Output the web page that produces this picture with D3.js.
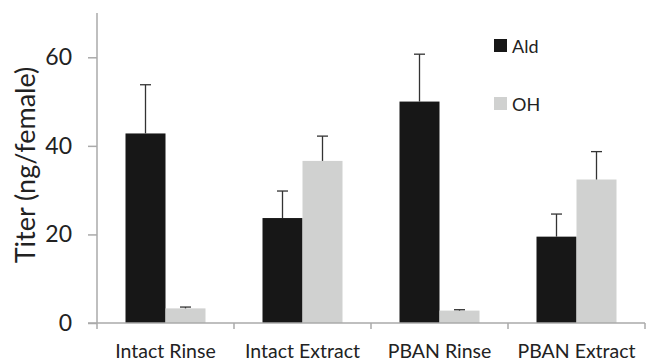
<!DOCTYPE html>
<html>
<head>
<meta charset="utf-8">
<script src="https://cdn.jsdelivr.net/npm/d3@7"></script>
<style>
  body { margin: 0; background: #fff; }
  svg { display: block; font-family: Lato, "Open Sans", sans-serif; }
</style>
</head>
<body>
<svg id="chart"></svg>
<script>
const categories = ['Intact Rinse', 'Intact Extract', 'PBAN Rinse', 'PBAN Extract'];
const seriesNames = ['Ald', 'OH'];
const aldValues = [42.8, 23.7, 50.0, 19.5];
const aldErrors = [11.0, 6.1, 10.7, 5.1];
const ohValues = [3.3, 36.6, 2.8, 32.4];
const ohErrors = [0.3, 5.6, 0.2, 6.3];
const yTicks = [0, 20, 40, 60];

const width = 646;
const height = 362;
const padding = { top: 13, right: 1, bottom: 39, left: 97 };
const colors = { Ald: '#171717', OH: '#d0d1d0' };

const svg = d3.select('#chart')
  .attr('width', width)
  .attr('height', height);

const xScale = d3.scaleBand()
  .domain(categories)
  .range([padding.left, width - padding.right]);

const xInner = d3.scaleBand()
  .domain(seriesNames)
  .range([0, 80]);

const yScale = d3.scaleLinear()
  .domain([0, 70])
  .range([height - padding.bottom, padding.top]);

// Build rows from the arrays
const rows = categories.flatMap((c, i) => [
  { cat: c, series: 'Ald', value: aldValues[i], err: aldErrors[i] },
  { cat: c, series: 'OH', value: ohValues[i], err: ohErrors[i] }
]);

const barX = d => xScale(d.cat) + (xScale.bandwidth() - 80) / 2 + xInner(d.series);

// Bars
svg.append('g')
  .selectAll('rect')
  .data(rows)
  .join('rect')
  .attr('x', barX)
  .attr('y', d => yScale(d.value))
  .attr('width', xInner.bandwidth())
  .attr('height', d => yScale(0) - yScale(d.value))
  .attr('fill', d => colors[d.series]);

// Error bars (upper only)
const errs = svg.append('g')
  .attr('stroke', '#333')
  .attr('stroke-width', 1.3);

errs.selectAll('line.stem')
  .data(rows)
  .join('line')
  .attr('class', 'stem')
  .attr('x1', d => barX(d) + xInner.bandwidth() / 2)
  .attr('x2', d => barX(d) + xInner.bandwidth() / 2)
  .attr('y1', d => yScale(d.value))
  .attr('y2', d => yScale(d.value + d.err));

errs.selectAll('line.cap')
  .data(rows)
  .join('line')
  .attr('class', 'cap')
  .attr('x1', d => barX(d) + xInner.bandwidth() / 2 - 5.5)
  .attr('x2', d => barX(d) + xInner.bandwidth() / 2 + 5.5)
  .attr('y1', d => yScale(d.value + d.err))
  .attr('y2', d => yScale(d.value + d.err));

// Y axis
const yAxis = svg.append('g')
  .attr('transform', `translate(${padding.left}, 0)`)
  .call(d3.axisLeft(yScale).tickValues(yTicks).tickSize(9).tickPadding(16));
yAxis.select('.domain')
  .attr('d', `M0,${yScale(70)}V${yScale(0) + 6}`);
yAxis.selectAll('line, .domain').attr('stroke', '#aaa').attr('stroke-width', 1.5);
yAxis.selectAll('text')
  .attr('font-size', 23)
  .attr('fill', '#222')
  .attr('font-family', 'Lato, sans-serif');

// X axis
const xAxis = svg.append('g')
  .attr('transform', `translate(0, ${yScale(0)})`);
xAxis.append('line')
  .attr('x1', padding.left - 9)
  .attr('x2', width - padding.right)
  .attr('stroke', '#aaa')
  .attr('stroke-width', 1.5);
xAxis.selectAll('line.tick')
  .data(categories)
  .join('line')
  .attr('class', 'tick')
  .attr('x1', d => xScale(d) + xScale.bandwidth())
  .attr('x2', d => xScale(d) + xScale.bandwidth())
  .attr('y1', 0)
  .attr('y2', 6)
  .attr('stroke', '#aaa')
  .attr('stroke-width', 1.5);
xAxis.selectAll('text')
  .data(categories)
  .join('text')
  .attr('x', d => xScale(d) + xScale.bandwidth() / 2)
  .attr('y', 35)
  .attr('text-anchor', 'middle')
  .attr('font-size', 19.5)
  .attr('fill', '#222')
  .text(d => d);

// Y label
svg.append('text')
  .attr('transform', `translate(35, ${(yScale(0) + yScale(70)) / 2 - 3}) rotate(-90)`)
  .attr('text-anchor', 'middle')
  .attr('font-size', 27)
  .attr('fill', '#222')
  .text('Titer (ng/female)');

// Legend
const legend = svg.append('g');
seriesNames.forEach((s, i) => {
  const y0 = 39 + i * 58;
  legend.append('rect')
    .attr('x', 494).attr('y', y0)
    .attr('width', 13).attr('height', 13)
    .attr('fill', colors[s]);
  legend.append('text')
    .attr('x', 512).attr('y', y0 + 14)
    .attr('font-size', 18)
    .attr('fill', '#222')
    .text(s);
});
</script>
</body>
</html>
